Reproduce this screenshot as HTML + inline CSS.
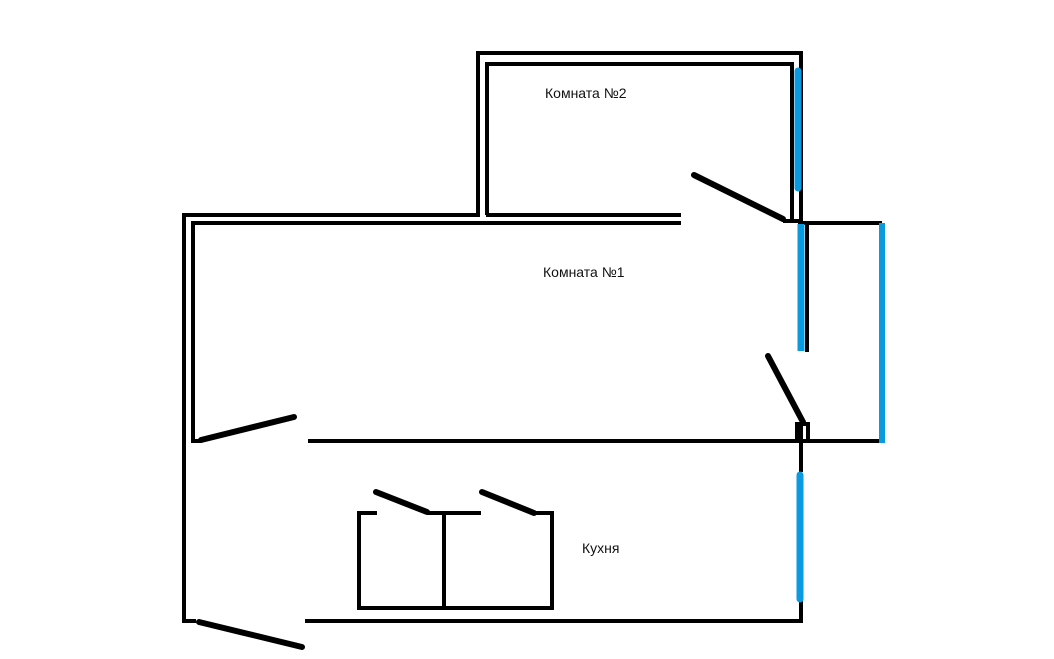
<!DOCTYPE html>
<html><head><meta charset="utf-8"><style>
html,body{margin:0;padding:0;background:#fff;}
svg{display:block;}
text{font-family:"Liberation Sans","DejaVu Sans",sans-serif;font-size:14px;fill:#111;}
</style></head><body>
<svg width="1054" height="659" viewBox="0 0 1054 659" xmlns="http://www.w3.org/2000/svg">
<g stroke="#000" stroke-width="4" fill="none" stroke-linecap="butt">
<polyline points="478,215 478,53 801,53 801,222"/>
<polyline points="487,215 487,64 792,64 792,221"/>
<line x1="486" y1="215" x2="681" y2="215"/>
<line x1="182" y1="215" x2="480" y2="215"/>
<line x1="191" y1="223" x2="681" y2="223"/>
<line x1="184" y1="213" x2="184" y2="623"/>
<line x1="193" y1="221" x2="193" y2="443"/>
<line x1="191" y1="441" x2="202" y2="441"/>
<line x1="182" y1="621" x2="196" y2="621"/>
<line x1="783" y1="221" x2="800" y2="221"/>
<line x1="807" y1="221" x2="807" y2="352"/>
<line x1="798" y1="223" x2="882" y2="223"/>
<line x1="308" y1="441" x2="882" y2="441"/>
<polyline points="797,441 797,424 808,424 808,441"/>
<line x1="801" y1="441" x2="801" y2="472"/>
<polyline points="305,621 801,621 801,598"/>
<rect x="359" y="513" width="193" height="95"/>
<line x1="444" y1="513" x2="444" y2="608"/>
</g>
<rect x="797" y="424" width="6" height="17" fill="#000"/>
<g stroke="#fff" stroke-width="5">
<line x1="377" y1="513" x2="427" y2="513"/>
<line x1="481" y1="513" x2="534" y2="513"/>
</g>
<g stroke="#000" stroke-width="6" stroke-linecap="round">
<line x1="694" y1="175" x2="783" y2="219"/>
<line x1="768" y1="356" x2="803" y2="422"/>
<line x1="201" y1="440" x2="294" y2="417"/>
<line x1="199" y1="622" x2="302" y2="647"/>
<line x1="376" y1="492" x2="427" y2="512"/>
<line x1="482" y1="492" x2="534" y2="513"/>
</g>
<g stroke="#0a9ae0" stroke-linecap="round">
<line x1="798" y1="71" x2="798" y2="188" stroke-width="7"/>
<line x1="801" y1="224" x2="801" y2="351" stroke-width="7" stroke-linecap="butt"/>
<line x1="882" y1="223" x2="882" y2="443" stroke-width="6" stroke-linecap="butt"/>
<line x1="800" y1="475" x2="800" y2="599" stroke-width="7"/>
</g>
<text x="545" y="98">Комната №2</text>
<text x="543" y="277">Комната №1</text>
<text x="582" y="553">Кухня</text>
</svg>
</body></html>
